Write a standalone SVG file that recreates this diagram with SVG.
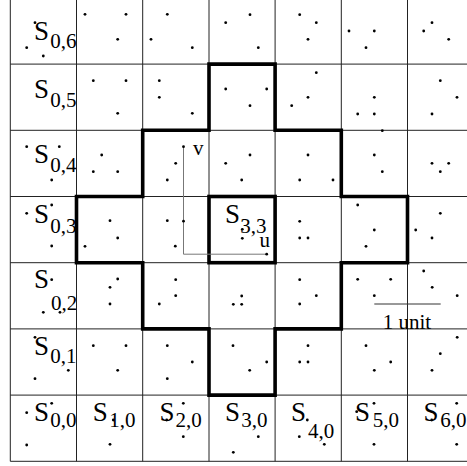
<svg xmlns="http://www.w3.org/2000/svg" width="467" height="466" viewBox="0 0 467 466">
<style>
.g{stroke:#222;stroke-width:1;fill:none}
.thick{stroke:#000;stroke-width:3.6;fill:none;stroke-linejoin:miter;stroke-linecap:square}
.ax{stroke:#777;stroke-width:1;fill:none}
.bar{stroke:#333;stroke-width:1}
circle{fill:#000}
text{font-family:"Liberation Serif","Times New Roman",serif;fill:#000}
.S{font-size:27px}
.sub{font-size:21px}
.lb{font-size:21px}
</style>
<defs><circle id="d" r="1.4"/></defs>
<rect x="0" y="0" width="467" height="466" fill="#fff"/>
<g id="grid">
<path class="g" d="M10.3,-2.1V461.3M76.5,-2.1V461.3M142.7,-2.1V461.3M209,-2.1V461.3M275.1,-2.1V461.3M341.3,-2.1V461.3M407.5,-2.1V461.3M473.7,-2.1V461.3"/>
<path class="g" d="M10.3,461.3H473.7M10.3,395.1H473.7M10.3,328.9H473.7M10.3,262.7H473.7M10.3,196.5H473.7M10.3,130.3H473.7M10.3,64.1H473.7M10.3,-2.1H473.7"/>
</g>
<g id="region">
<path class="thick" d="M209,64.1H275.1V130.3H341.3V196.5H407.5V262.7H341.3V328.9H275.1V395.1H209V328.9H142.7V262.7H76.5V196.5H142.7V130.3H209Z"/>
<rect class="thick" x="209" y="196.5" width="66.1" height="66.2"/>
</g>
<g id="axes">
<polyline class="ax" points="183.5,146.7 183.5,254.2 266.7,254.2"/>
<text class="lb" x="193" y="155">v</text>
<text class="lb" x="259.5" y="246.5">u</text>
</g>
<g id="scale">
<line class="bar" x1="374.3" y1="304" x2="440.7" y2="304"/>
<text class="lb" x="382.7" y="329">1 unit</text>
</g>
<g id="labels">
<g id="S06"><text class="S" x="34" y="40">S</text><text class="sub" x="50.3" y="48.3">0,6</text></g>
<g id="S05"><text class="S" x="34" y="98.3">S</text><text class="sub" x="50.3" y="106.7">0,5</text></g>
<g id="S04"><text class="S" x="34" y="163.3">S</text><text class="sub" x="50.3" y="171.7">0,4</text></g>
<g id="S03"><text class="S" x="34" y="222.7">S</text><text class="sub" x="50.3" y="233">0,3</text></g>
<g id="S02"><text class="S" x="34" y="288">S</text><text class="sub" x="51" y="309.7">0,2</text></g>
<g id="S01"><text class="S" x="34" y="354.7">S</text><text class="sub" x="50.3" y="363">0,1</text></g>
<g id="S00"><text class="S" x="34" y="420.7">S</text><text class="sub" x="50.3" y="427.3">0,0</text></g>
<g id="S10"><text class="S" x="92.7" y="420.7">S</text><text class="sub" x="109.2" y="427.3">1,0</text></g>
<g id="S20"><text class="S" x="159.4" y="420.7">S</text><text class="sub" x="175.5" y="427.3">2,0</text></g>
<g id="S30"><text class="S" x="225" y="420.7">S</text><text class="sub" x="241.2" y="427.3">3,0</text></g>
<g id="S40"><text class="S" x="291" y="420.7">S</text><text class="sub" x="308" y="438">4,0</text></g>
<g id="S50"><text class="S" x="355" y="420.7">S</text><text class="sub" x="372.7" y="427.3">5,0</text></g>
<g id="S60"><text class="S" x="423.4" y="420.7">S</text><text class="sub" x="440.2" y="427.3">6,0</text></g>
<g id="S33"><text class="S" x="225" y="222.7">S</text><text class="sub" x="240.3" y="232.7">3,3</text></g>
</g>
<g id="points">
<g id="row6">
<use href="#d" x="35" y="22.7"/><use href="#d" x="26.7" y="47.7"/><use href="#d" x="43.3" y="56"/>
<use href="#d" x="85" y="14.3"/><use href="#d" x="126" y="14.3"/><use href="#d" x="117.7" y="39.3"/>
<use href="#d" x="167.3" y="14.3"/><use href="#d" x="151" y="39.3"/><use href="#d" x="192.3" y="47.7"/>
<use href="#d" x="225.7" y="22.7"/><use href="#d" x="250" y="14.7"/><use href="#d" x="258.3" y="47.7"/>
<use href="#d" x="299.7" y="14.7"/><use href="#d" x="316.3" y="22.7"/><use href="#d" x="308" y="39.3"/>
<use href="#d" x="349" y="31"/><use href="#d" x="374.3" y="31"/><use href="#d" x="366" y="47.7"/>
<use href="#d" x="432" y="22.7"/><use href="#d" x="423.7" y="31"/><use href="#d" x="448.7" y="39.3"/>
</g>
<g id="row5">
<use href="#d" x="93.3" y="80.7"/><use href="#d" x="126" y="80.7"/><use href="#d" x="117.7" y="113.3"/>
<use href="#d" x="159.3" y="80.7"/><use href="#d" x="159.3" y="97.3"/><use href="#d" x="192.3" y="113.3"/>
<use href="#d" x="225.7" y="89"/><use href="#d" x="266.7" y="89"/><use href="#d" x="250" y="105.7"/>
<use href="#d" x="316.3" y="72.7"/><use href="#d" x="308" y="97.3"/><use href="#d" x="291.7" y="105.7"/>
<use href="#d" x="374.3" y="97.3"/><use href="#d" x="357.7" y="114"/><use href="#d" x="374.3" y="114"/><use href="#d" x="382.3" y="130.7"/>
<use href="#d" x="440.3" y="80.7"/><use href="#d" x="457" y="97.3"/><use href="#d" x="432" y="114"/>
</g>
<g id="row4">
<use href="#d" x="26.7" y="146.7"/><use href="#d" x="59.3" y="146.7"/><use href="#d" x="51.7" y="180"/>
<use href="#d" x="101.7" y="155"/><use href="#d" x="93.3" y="171.7"/><use href="#d" x="117.7" y="171.7"/>
<use href="#d" x="183.5" y="146.7"/><use href="#d" x="175.7" y="163.3"/><use href="#d" x="167.3" y="180"/>
<use href="#d" x="225.7" y="163.3"/><use href="#d" x="250" y="155"/><use href="#d" x="241.7" y="180"/>
<use href="#d" x="308" y="155"/><use href="#d" x="299.7" y="180"/><use href="#d" x="333" y="180"/>
<use href="#d" x="374.3" y="155"/><use href="#d" x="382.3" y="171.7"/>
<use href="#d" x="432" y="163.3"/><use href="#d" x="448.7" y="163.3"/><use href="#d" x="440.3" y="171.7"/>
</g>
<g id="row3">
<use href="#d" x="26.7" y="213.3"/><use href="#d" x="51.7" y="205"/><use href="#d" x="51.7" y="246"/>
<use href="#d" x="110" y="220.7"/><use href="#d" x="85" y="246.3"/><use href="#d" x="117.7" y="238"/>
<use href="#d" x="167.3" y="220.7"/><use href="#d" x="183.5" y="221.2"/><use href="#d" x="175.3" y="246.2"/>
<use href="#d" x="242.3" y="229.3"/><use href="#d" x="242.3" y="238.3"/><use href="#d" x="266.7" y="254.2"/>
<use href="#d" x="299.7" y="221.3"/><use href="#d" x="299.7" y="238"/><use href="#d" x="308" y="238"/>
<use href="#d" x="357.7" y="205"/><use href="#d" x="374.3" y="230"/><use href="#d" x="366" y="246.3"/>
<use href="#d" x="415.7" y="230"/><use href="#d" x="440.3" y="213.3"/><use href="#d" x="432" y="238"/>
</g>
<g id="row2">
<use href="#d" x="51.7" y="279.7"/><use href="#d" x="43.3" y="312.3"/><use href="#d" x="60" y="312.3"/>
<use href="#d" x="117.7" y="279"/><use href="#d" x="110" y="287.3"/><use href="#d" x="110" y="304"/>
<use href="#d" x="175.7" y="279.7"/><use href="#d" x="175.7" y="295.7"/><use href="#d" x="159.3" y="304"/>
<use href="#d" x="233.3" y="304.3"/><use href="#d" x="241.7" y="304.3"/><use href="#d" x="241.7" y="296"/>
<use href="#d" x="299.7" y="279.7"/><use href="#d" x="316.3" y="295.7"/><use href="#d" x="299.7" y="304"/>
<use href="#d" x="357.7" y="279.3"/><use href="#d" x="390.7" y="279.3"/><use href="#d" x="374.3" y="295.7"/>
<use href="#d" x="423.7" y="271"/><use href="#d" x="432.2" y="287.3"/><use href="#d" x="457.2" y="295.7"/>
</g>
<g id="row1">
<use href="#d" x="35" y="337.3"/><use href="#d" x="68.3" y="370.3"/><use href="#d" x="35" y="378.7"/>
<use href="#d" x="93.3" y="345.7"/><use href="#d" x="126" y="345.7"/><use href="#d" x="117.7" y="370.3"/>
<use href="#d" x="167.3" y="345.7"/><use href="#d" x="192.3" y="362"/><use href="#d" x="167.3" y="378.7"/>
<use href="#d" x="233" y="345.7"/><use href="#d" x="249.7" y="370.3"/><use href="#d" x="266.7" y="362"/>
<use href="#d" x="308" y="345.7"/><use href="#d" x="299.7" y="362"/><use href="#d" x="308" y="362"/>
<use href="#d" x="366" y="345.7"/><use href="#d" x="374.3" y="370.3"/><use href="#d" x="390.7" y="362"/>
<use href="#d" x="457.2" y="337.3"/><use href="#d" x="440.3" y="353.7"/><use href="#d" x="432" y="370.3"/>
</g>
<g id="row0">
<use href="#d" x="26.7" y="412.7"/><use href="#d" x="51.7" y="403.3"/><use href="#d" x="26.7" y="445"/>
<use href="#d" x="113.3" y="420"/><use href="#d" x="110" y="444.3"/>
<use href="#d" x="183.3" y="403.3"/><use href="#d" x="166.7" y="420"/><use href="#d" x="183.3" y="436.7"/>
<use href="#d" x="258.3" y="436.7"/><use href="#d" x="233.3" y="452.3"/>
<use href="#d" x="307.3" y="420"/><use href="#d" x="299.3" y="436.7"/><use href="#d" x="324.3" y="444.3"/>
<use href="#d" x="356.7" y="411.7"/><use href="#d" x="374" y="403.3"/><use href="#d" x="374" y="444.3"/>
<use href="#d" x="456.7" y="403.3"/><use href="#d" x="431.7" y="420"/><use href="#d" x="456.7" y="444.3"/>
</g>
</g>
</svg>
